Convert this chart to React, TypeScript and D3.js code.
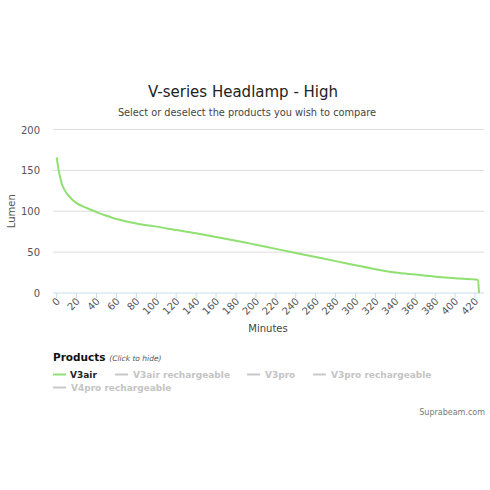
import React from "react";
import * as d3 from "d3";

const minutes = [0, 2, 5, 10, 15, 20, 30, 40, 50, 60, 70, 80, 90, 100, 120, 140, 160, 180, 200, 220, 240, 260, 280, 300, 320, 340, 360, 380, 400, 420, 423, 424];
const lumen = [166, 150, 134, 122, 115, 110, 104, 99, 94.5, 90.5, 87.5, 85, 83, 81.2, 77, 73, 68.5, 64, 59, 54, 49, 44, 39, 34, 29, 25, 22.5, 20, 18, 16.5, 16, 0];
const xTicks = d3.range(0, 421, 20);
const yTicks = [0, 50, 100, 150, 200];
const legendItems = ["V3air", "V3air rechargeable", "V3pro", "V3pro rechargeable", "V4pro rechargeable"];
const legendActive = [true, false, false, false, false];

export default function App() {
  const W = 490, H = 490;
  const left = 53, right = 484, top = 129.5, bottom = 293;
  const x = d3.scaleLinear().domain([-3.7, 429]).range([left, right]);
  const y = d3.scaleLinear().domain([0, 200]).range([bottom, top]);
  const data = minutes.map((m, i) => [m, lumen[i]] as [number, number]);
  const line = d3.line<[number, number]>().x(d => x(d[0])).y(d => y(d[1])).curve(d3.curveMonotoneX);
  const font = "'DejaVu Sans', sans-serif";
  const legendPos = [
    { sx: 53, tx: 70, y: 378 },
    { sx: 115, tx: 133, y: 378 },
    { sx: 247, tx: 265, y: 378 },
    { sx: 313, tx: 331, y: 378 },
    { sx: 53, tx: 71, y: 391 },
  ];
  return (
    <svg width={W} height={H} style={{ position: "absolute", left: 0, top: 0, background: "#fff" }} fontFamily={font}>
      <rect width={W} height={H} fill="#fff" />
      <text x={243} y={97} textAnchor="middle" fontSize={15} fill="#222">V-series Headlamp - High</text>
      <text x={247} y={116} textAnchor="middle" fontSize={9.8} fill="#444">Select or deselect the products you wish to compare</text>
      {yTicks.map(t => (
        <g key={t}>
          {t > 0 && <line x1={left} x2={right} y1={y(t)} y2={y(t)} stroke="#dcdcdc" strokeWidth={1} />}
          <text x={40} y={y(t) + 4} textAnchor="end" fontSize={10} fill="#555">{t}</text>
        </g>
      ))}
      <text transform={`translate(15,${(top + bottom) / 2}) rotate(-90)`} textAnchor="middle" fontSize={10} fill="#555">Lumen</text>
      <line x1={left} x2={right} y1={bottom} y2={bottom} stroke="#c8dce6" strokeWidth={1} />
      {xTicks.map(t => (
        <g key={t}>
          <line x1={x(t)} x2={x(t)} y1={bottom} y2={bottom + 5} stroke="#c8dce6" />
          <text transform={`translate(${x(t) + 4},${bottom + 9}) rotate(-45)`} textAnchor="end" fontSize={10} fill="#555">{t}</text>
        </g>
      ))}
      <text x={268} y={332} textAnchor="middle" fontSize={10} fill="#444">Minutes</text>
      <path d={line(data) || ""} fill="none" stroke="#8fe071" strokeWidth={2} />
      <text x={53} y={361} fontSize={10.5} fontWeight="bold" fill="#111">Products <tspan fontSize={7.5} fontWeight="normal" fontStyle="italic" fill="#555">(Click to hide)</tspan></text>
      {legendItems.map((name, i) => {
        const p = legendPos[i];
        return (
          <g key={name}>
            <line x1={p.sx} x2={p.sx + 13} y1={p.y - 3.5} y2={p.y - 3.5} stroke={legendActive[i] ? "#8fe071" : "#c8c8c8"} strokeWidth={2} />
            <text x={p.tx} y={p.y} fontSize={9} fontWeight="bold" fill={legendActive[i] ? "#222" : "#c4c4c4"}>{name}</text>
          </g>
        );
      })}
      <text x={485} y={415} textAnchor="end" fontSize={8} fill="#777">Suprabeam.com</text>
    </svg>
  );
}
